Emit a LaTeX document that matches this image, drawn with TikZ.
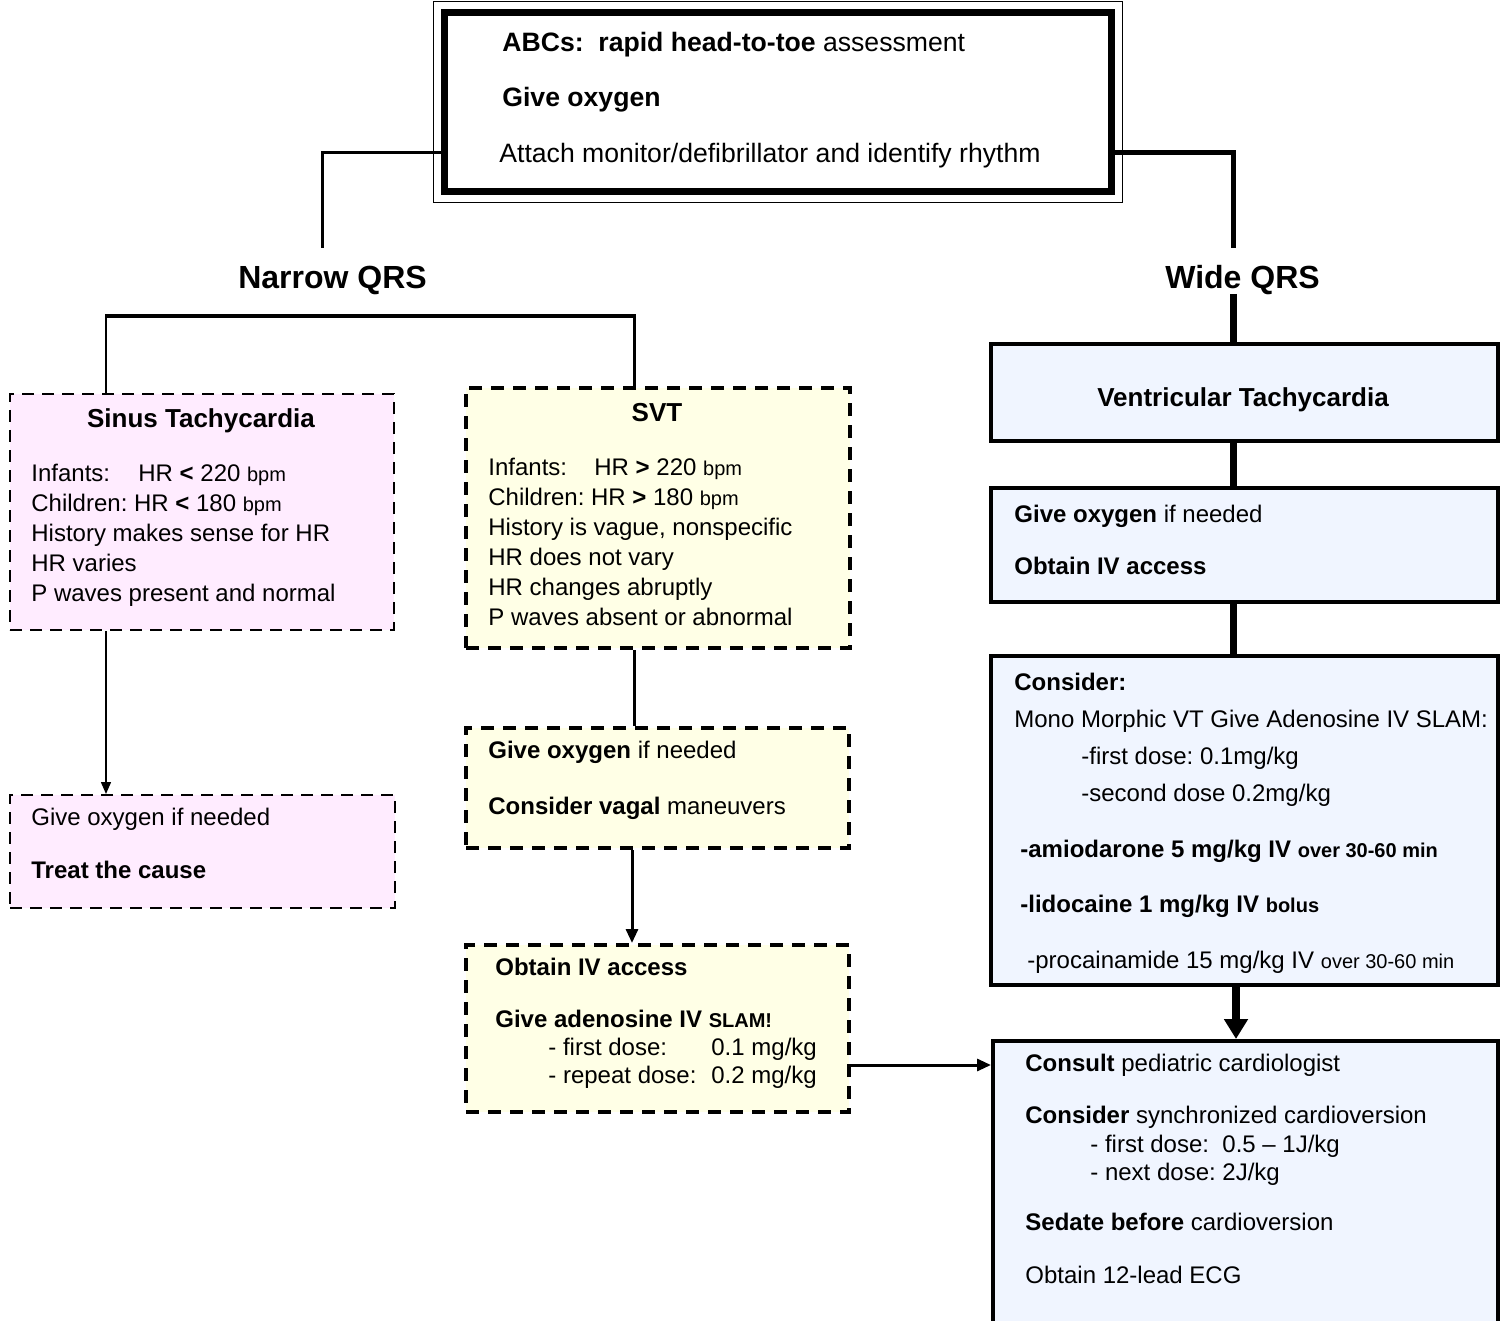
\documentclass[tikz,border=0pt]{standalone}
\usepackage{fontspec}
\setmainfont{Liberation Sans}
\usetikzlibrary{arrows.meta}
\definecolor{sinuspink}{RGB}{255,236,255}
\definecolor{svtyellow}{RGB}{255,255,230}
\definecolor{vtblue}{RGB}{240,245,255}
\newcommand\smalltxt[1]{{\fontsize{10}{12}\selectfont #1}}
\frenchspacing
\tikzset{
	box/.style={draw, rectangle, inner sep=0pt},
	sinusbox/.style={box, fill=sinuspink, line width=1pt, dash pattern=on 6pt off 4pt},
	svtbox/.style={box, fill=svtyellow, line width=2pt, dash pattern=on 6.5pt off 4.5pt},
	vtbox/.style={box, fill=vtblue, line width=2pt},
	txt/.style={inner sep=0pt, anchor=north west, align=left, font=\fontsize{12}{15}\selectfont},
	title/.style={inner sep=0pt, anchor=base, font=\fontsize{13}{16}\selectfont\bfseries},
	qrs/.style={inner sep=0pt, anchor=base, font=\fontsize{16}{19}\selectfont\bfseries},
	arrS/.style={line width=0.75pt, -{Triangle[length=6pt,width=5pt]}},
	arrM/.style={line width=1.5pt, -{Triangle[length=7pt,width=6pt]}},
	arrL/.style={line width=3.75pt, -{Triangle[length=10pt,width=11.5pt]}},
}
\begin{document}
\begin{tikzpicture}[x=0.5pt, y=-0.5pt]
	\useasboundingbox (0,0) rectangle (1505,1321);
	\clip (0,0) rectangle (1505,1321);
	% top box
	\node[box, line width=3.5pt, minimum width=333.5pt, minimum height=89.75pt] (abc) at (778,102.25) {};
	\draw[line width=0.75pt] ([shift={(-3.75pt,3.75pt)}]abc.north west) rectangle ([shift={(3.75pt,-3.5pt)}]abc.south east);
	\node[txt, font=\fontsize{13.3}{16.6}\selectfont] at (502,31.5) {\textbf{ABCs:\ \ rapid head-to-toe} assessment\\[11.2pt]
		\textbf{Give oxygen}\\[11.2pt]
		\hspace*{-1.5pt}Attach monitor/defibrillator and identify rhythm};
	\node[qrs] (narrow) at (332.5,288.5) {Narrow QRS};
	\node[qrs] (wide) at (1242.5,288.5) {Wide QRS};
	\coordinate (nq) at (322,248);
	\coordinate (wq) at (1233,248);
	\draw[line width=1.5pt] ([yshift=-25.375pt]abc.west) -| (nq);
	\draw[line width=2.5pt] ([yshift=-25.375pt]abc.east) -| (wq);
	% narrow QRS side
	\node[sinusbox, minimum width=192pt, minimum height=118pt] (sinus) at (202,512) {};
	\node[title] at (201,427.3) {Sinus Tachycardia};
	\node[txt] at (31,463.5) {\makebox[53.5pt][l]{Infants:}HR \textbf{<} 220 \smalltxt{bpm}\\
		Children: HR \textbf{<} 180 \smalltxt{bpm}\\
		History makes sense for HR\\
		HR varies\\
		P waves present and normal};
	\node[sinusbox, minimum width=192.5pt, minimum height=56.5pt] (sinox) at (202.5,851.5) {};
	\node[txt] at (31,807.5) {Give oxygen if needed\\[11.5pt]
		\textbf{Treat the cause}};
	\node[svtbox, minimum width=192pt, minimum height=130pt] (svt) at (658,518) {};
	\node[title] at (657,421.3) {SVT};
	\node[txt] at (488,457.5) {\makebox[53pt][l]{Infants:}HR \textbf{>} 220 \smalltxt{bpm}\\
		Children: HR \textbf{>} 180 \smalltxt{bpm}\\
		History is vague, nonspecific\\
		HR does not vary\\
		HR changes abruptly\\
		P waves absent or abnormal};
	\node[svtbox, minimum width=191.5pt, minimum height=60pt] (svtox) at (657.5,788) {};
	\node[txt] at (488,740.5) {\textbf{Give oxygen} if needed\\[13pt]
		\textbf{Consider vagal} maneuvers};
	\node[svtbox, minimum width=191.5pt, minimum height=83.5pt] (iv) at (657.5,1028.5) {};
	\node[txt] at (495,957.5) {\textbf{Obtain IV access}\\[11pt]
		\textbf{Give adenosine IV \smalltxt{SLAM!}}\\[-1pt]
		\hspace*{26.5pt}\makebox[81.5pt][l]{- first dose:}0.1 mg/kg\\[-1pt]
		\hspace*{26.5pt}\makebox[81.5pt][l]{- repeat dose:}0.2 mg/kg};
	\coordinate (nl) at (106,316);
	\coordinate (nr) at (634,316);
	\draw[line width=1.75pt] ([xshift=-0.375pt]nl) -- ([xshift=0.75pt]nr);
	\draw[line width=0.75pt] (nl) -- (nl |- sinus.north);
	\draw[line width=1.5pt] (nr) -- (nr |- svt.north);
	\draw[arrS] (nl |- sinus.south) -- (nl |- sinox.north);
	\draw[line width=1.5pt] (nr |- svt.south) -- (nr |- svtox.north);
	\draw[arrM] ([xshift=-1pt]nr |- svtox.south) -- ([xshift=-1pt]nr |- iv.north);
	% wide QRS side
	\node[vtbox, minimum width=253.5pt, minimum height=48.5pt] (vt) at (1244.5,392.5) {};
	\node[title] at (1243,406.3) {Ventricular Tachycardia};
	\node[vtbox, minimum width=253.5pt, minimum height=57pt] (vtox) at (1244.5,545) {};
	\node[txt] at (1014,504.5) {\textbf{Give oxygen} if needed\\[11pt]
		\textbf{Obtain IV access}};
	\node[vtbox, minimum width=253.5pt, minimum height=164.5pt] (cons) at (1244.5,820.5) {};
	\node[txt] at (1014,672.5) {\textbf{Consider:}\\[3.5pt]
		Mono Morphic VT Give Adenosine IV SLAM:\\[3.5pt]
		\hspace*{33.5pt}-first dose: 0.1mg/kg\\[3.5pt]
		\hspace*{33.5pt}-second dose 0.2mg/kg\\[13pt]
		\hspace*{3pt}\textbf{-amiodarone 5 mg/kg IV \smalltxt{over 30-60 min}}\\[12.5pt]
		\hspace*{3pt}\textbf{-lidocaine 1 mg/kg IV \smalltxt{bolus}}\\[13pt]
		\hspace*{6.5pt}-procainamide 15 mg/kg IV \smalltxt{over 30-60 min}};
	\node[vtbox, minimum width=252.5pt, minimum height=149.5pt] (consult) at (1245.5,1190.5) {};
	\node[txt] at (1025,1053.5) {\textbf{Consult} pediatric cardiologist\\[11pt]
		\textbf{Consider} synchronized cardioversion\\[-0.5pt]
		\hspace*{32.5pt}- first dose:\ \ 0.5 – 1J/kg\\[-1pt]
		\hspace*{32.5pt}- next dose: 2J/kg\\[10pt]
		\textbf{Sedate before} cardioversion\\[11.5pt]
		Obtain 12-lead ECG};
	\coordinate (trunk) at (1233,294);
	\draw[line width=3.5pt] (trunk) -- (trunk |- vt.north);
	\draw[line width=3.5pt] (trunk |- vt.south) -- (trunk |- vtox.north);
	\draw[line width=3.5pt] (trunk |- vtox.south) -- (trunk |- cons.north);
	\draw[arrL] ([xshift=1.5pt]trunk |- cons.south) -- ([xshift=1.5pt]trunk |- consult.north);
	\draw[arrM] ([yshift=-18.25pt]iv.east) coordinate (ivout) -- (ivout -| consult.west);
\end{tikzpicture}
\end{document}
